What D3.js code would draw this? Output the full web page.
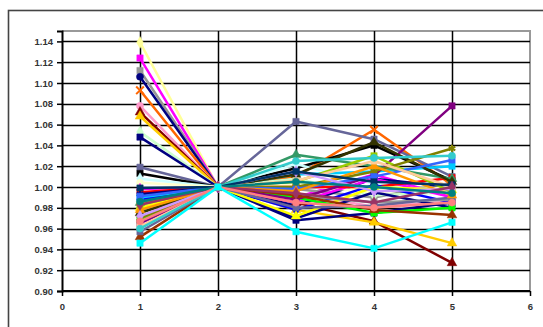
<!DOCTYPE html>
<html><head><meta charset="utf-8">
<script src="https://cdn.jsdelivr.net/npm/d3@7"></script>
<style>body{margin:0;background:#fff}svg{display:block}</style>
</head><body>
<script>
const xValues = [1, 2, 3, 4, 5];
const xTicks = [0, 1, 2, 3, 4, 5, 6];
const yTicks = [0.90, 0.92, 0.94, 0.96, 0.98, 1.00, 1.02, 1.04, 1.06, 1.08, 1.10, 1.12, 1.14];
const seriesColors = ["#FFFF99","#FF00FF","#969696","#000080","#FF6600","#FF99CC","#800000","#FFCC00","#CCFFCC","#000080",
  "#666699","#000000","#CCFFFF","#FFFFCC","#FF00FF","#FF0000","#000080","#0000FF","#00CCFF","#FFFF00",
  "#969696","#00FF00","#800080","#993300","#666699","#339966","#333300","#99CC00","#808000","#3366FF",
  "#FF9900","#FFCC99","#CC99FF","#33CCCC","#003366","#993366","#008080","#FF8080","#00FFFF"];
const seriesMarkers = ["diamond","square","square","circle","cross","circle","triangle","triangle","diamond","square",
  "square","square","diamond","circle","diamond","square","star","diamond","square","triangle",
  "circle","square","square","triangle","square","triangle","triangle","square","star","square",
  "triangle","square","diamond","circle","square","diamond","circle","circle","square"];
const seriesValues = [
  [1.139, 1.00, 1.004, 0.996, 1.000],
  [1.124, 1.00, 0.990, 1.012, 0.990],
  [1.112, 1.00, 0.998, 0.990, 1.004],
  [1.106, 1.00, 0.982, 1.008, 1.000],
  [1.093, 1.00, 1.010, 1.055, 1.002],
  [1.078, 1.00, 0.994, 0.981, 0.986],
  [1.072, 1.00, 0.985, 0.967, 0.927],
  [1.068, 1.00, 0.978, 0.966, 0.946],
  [1.053, 1.00, 1.008, 0.992, 0.995],
  [1.048, 1.00, 0.968, 0.975, 0.985],
  [1.019, 1.00, 1.063, 1.046, 1.010],
  [1.013, 1.00, 1.018, 1.040, 1.006],
  [1.008, 1.00, 1.022, 1.003, 0.995],
  [1.004, 1.00, 1.002, 0.995, 1.000],
  [0.998, 1.00, 0.985, 1.008, 0.990],
  [0.995, 1.00, 1.000, 1.000, 1.009],
  [0.993, 1.00, 0.970, 0.995, 0.980],
  [0.988, 1.00, 0.978, 1.002, 0.985],
  [0.990, 1.00, 1.012, 1.015, 1.020],
  [0.980, 1.00, 0.972, 1.000, 0.997],
  [0.976, 1.00, 0.992, 0.985, 0.988],
  [0.968, 1.00, 0.990, 0.975, 0.980],
  [0.965, 1.00, 0.988, 1.011, 1.078],
  [0.952, 1.00, 0.992, 0.978, 0.973],
  [0.957, 1.00, 0.980, 0.982, 0.990],
  [0.985, 1.00, 1.031, 1.020, 1.008],
  [0.975, 1.00, 1.012, 1.043, 1.005],
  [0.983, 1.00, 1.005, 1.030, 0.995],
  [0.970, 1.00, 1.000, 1.015, 1.037],
  [0.991, 1.00, 0.998, 1.010, 1.026],
  [0.978, 1.00, 0.996, 1.020, 0.992],
  [0.962, 1.00, 1.006, 1.025, 1.000],
  [0.972, 1.00, 1.015, 0.996, 0.998],
  [0.960, 1.00, 1.025, 1.028, 1.030],
  [0.999, 1.00, 1.015, 1.005, 1.002],
  [0.983, 1.00, 0.994, 0.985, 1.000],
  [0.986, 1.00, 1.005, 1.000, 0.994],
  [0.967, 1.00, 0.985, 0.980, 0.985],
  [0.946, 1.00, 0.957, 0.941, 0.966]
];

const W = 543, H = 327;
const plot = {left: 62, right: 530, top: 31, bottom: 291};
const svg = d3.select("body").append("svg").attr("width", W).attr("height", H);
svg.append("rect").attr("width", W).attr("height", H).attr("fill", "#fff");
// outer chart border (partly off-canvas)
svg.append("rect").attr("x", 8.5).attr("y", 10.5).attr("width", 560).attr("height", 340)
  .attr("fill", "none").attr("stroke", "#444").attr("stroke-width", 1.6);

const x = d3.scaleLinear().domain([0, 6]).range([plot.left, plot.right]);
const y = d3.scaleLinear().domain([0.90, 1.15]).range([plot.bottom, plot.top]);

// plot border top/right
svg.append("path").attr("d", `M${plot.left},${plot.top}H${plot.right}V${plot.bottom}`)
  .attr("fill", "none").attr("stroke", "#999").attr("stroke-width", 2);

// gridlines
const g = svg.append("g");
g.selectAll(".hg").data(yTicks).join("line")
  .attr("x1", plot.left).attr("x2", plot.right)
  .attr("y1", d => Math.round(y(d)) + 0.5).attr("y2", d => Math.round(y(d)) + 0.5)
  .attr("stroke", "#000").attr("stroke-width", 1.5);
g.selectAll(".vg").data(xTicks.filter(d => d > 0 && d < 6)).join("line")
  .attr("y1", plot.top).attr("y2", plot.bottom)
  .attr("x1", d => Math.round(x(d)) + 0.5).attr("x2", d => Math.round(x(d)) + 0.5)
  .attr("stroke", "#000").attr("stroke-width", 1.5);

// axes
const yAxis = d3.axisLeft(y).tickValues(yTicks).tickFormat(d3.format(".2f")).tickSize(5).tickPadding(4);
const xAxis = d3.axisBottom(x).tickValues(xTicks).tickFormat(d3.format("d")).tickSize(5).tickPadding(7);
const ya = svg.append("g").attr("transform", `translate(${plot.left},0)`).call(yAxis);
const xa = svg.append("g").attr("transform", `translate(0,${plot.bottom})`).call(xAxis);
[ya, xa].forEach(a => {
  a.select(".domain").attr("stroke", "#000").attr("stroke-width", 2);
  a.selectAll(".tick line").attr("stroke", "#000").attr("stroke-width", 1.5);
  a.selectAll("text").attr("font-family", "Liberation Sans, Arial, sans-serif")
    .attr("font-size", 9.5).attr("font-weight", "bold").attr("fill", "#333");
});
xa.select(".domain").attr("d", `M${plot.left},0H${plot.right}`);

// series
const line = d3.line().x((d, i) => x(xValues[i])).y(d => y(d));
const symbolMap = {
  diamond: d3.symbolDiamond, square: d3.symbolSquare, triangle: d3.symbolTriangle,
  circle: d3.symbolCircle, cross: d3.symbolX, star: d3.symbolAsterisk
};
const sg = svg.append("g");
seriesValues.forEach((vals, si) => {
  const c = seriesColors[si];
  sg.append("path").attr("d", line(vals)).attr("fill", "none")
    .attr("stroke", c).attr("stroke-width", 2.5).attr("stroke-linejoin", "round");
  const m = seriesMarkers[si];
  const open = (m === "cross" || m === "star");
  sg.selectAll(null).data(vals).join("path")
    .attr("transform", (d, i) => `translate(${x(xValues[i])},${y(d)})`)
    .attr("d", d3.symbol().type(symbolMap[m]).size(open ? 40 : 40))
    .attr("fill", open ? "none" : c).attr("stroke", c).attr("stroke-width", open ? 2 : 0.5);
});
</script>
</body></html>
